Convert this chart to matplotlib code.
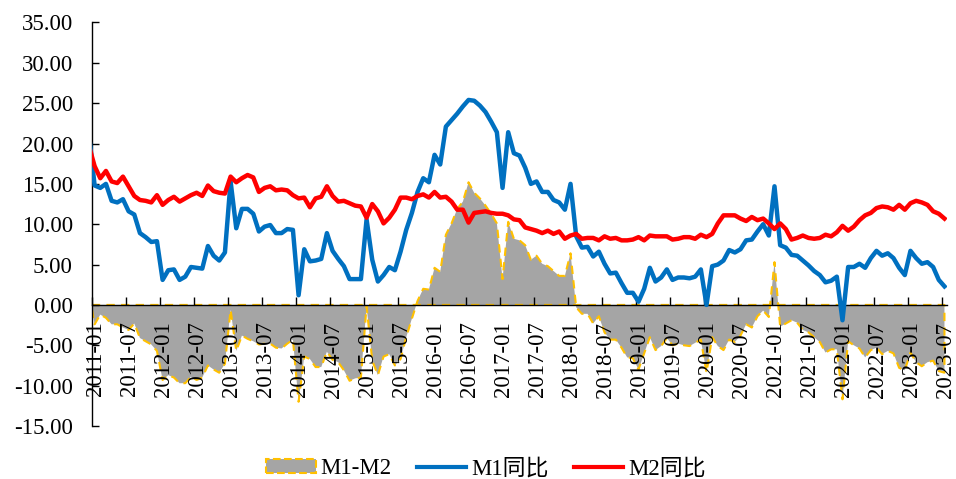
import numpy as np
import pandas as pd
import matplotlib.pyplot as plt
import matplotlib.transforms as mtransforms
from matplotlib.patches import Patch
from matplotlib.lines import Line2D

plt.switch_backend('Agg')
plt.rcParams['font.family'] = ['Liberation Serif', 'Noto Sans CJK SC']

# monthly series 2010-12 .. 2023-07 (first point lies just left of the axis and is clipped)
months = pd.period_range('2010-12', '2023-07', freq='M')

m1_yoy = [
    21.2,
    14.8, 14.5, 15.0, 12.9, 12.7, 13.1, 11.6, 11.2, 8.9, 8.4, 7.8, 7.9,    # 2011
    3.1, 4.3, 4.4, 3.1, 3.5, 4.7, 4.6, 4.5, 7.3, 6.1, 5.5, 6.5,            # 2012
    15.3, 9.5, 11.9, 11.9, 11.3, 9.1, 9.7, 9.9, 8.9, 8.9, 9.4, 9.3,        # 2013
    1.2, 6.9, 5.4, 5.5, 5.7, 8.9, 6.7, 5.7, 4.8, 3.2, 3.2, 3.2,            # 2014
    10.6, 5.6, 2.9, 3.7, 4.7, 4.3, 6.6, 9.3, 11.4, 14.0, 15.7, 15.2,       # 2015
    18.6, 17.4, 22.1, 22.9, 23.7, 24.6, 25.4, 25.3, 24.7, 23.9, 22.7, 21.4,  # 2016
    14.5, 21.4, 18.8, 18.5, 17.0, 15.0, 15.3, 14.0, 14.0, 13.0, 12.7, 11.8,  # 2017
    15.0, 8.5, 7.1, 7.2, 6.0, 6.6, 5.1, 3.9, 4.0, 2.7, 1.5, 1.5,           # 2018
    0.4, 2.0, 4.6, 2.9, 3.4, 4.4, 3.1, 3.4, 3.4, 3.3, 3.5, 4.4,            # 2019
    0.0, 4.8, 5.0, 5.5, 6.8, 6.5, 6.9, 8.0, 8.1, 9.1, 10.0, 8.6,           # 2020
    14.7, 7.4, 7.1, 6.2, 6.1, 5.5, 4.9, 4.2, 3.7, 2.8, 3.0, 3.5,           # 2021
    -1.9, 4.7, 4.7, 5.1, 4.6, 5.8, 6.7, 6.1, 6.4, 5.8, 4.6, 3.7,           # 2022
    6.7, 5.8, 5.1, 5.3, 4.7, 3.1, 2.3,                                     # 2023
]

m2_yoy = [
    19.7,
    17.2, 15.7, 16.6, 15.3, 15.1, 15.9, 14.7, 13.5, 13.0, 12.9, 12.7, 13.6,  # 2011
    12.4, 13.0, 13.4, 12.8, 13.2, 13.6, 13.9, 13.5, 14.8, 14.1, 13.9, 13.8,  # 2012
    15.9, 15.2, 15.7, 16.1, 15.8, 14.0, 14.5, 14.7, 14.2, 14.3, 14.2, 13.6,  # 2013
    13.2, 13.3, 12.1, 13.2, 13.4, 14.7, 13.5, 12.8, 12.9, 12.6, 12.3, 12.2,  # 2014
    10.8, 12.5, 11.6, 10.1, 10.8, 11.8, 13.3, 13.3, 13.1, 13.5, 13.7, 13.3,  # 2015
    14.0, 13.3, 13.4, 12.8, 11.8, 11.8, 10.2, 11.4, 11.5, 11.6, 11.4, 11.3,  # 2016
    11.3, 11.1, 10.6, 10.5, 9.6, 9.4, 9.2, 8.9, 9.2, 8.8, 9.1, 8.2,          # 2017
    8.6, 8.8, 8.2, 8.3, 8.3, 8.0, 8.5, 8.2, 8.3, 8.0, 8.0, 8.1,              # 2018
    8.4, 8.0, 8.6, 8.5, 8.5, 8.5, 8.1, 8.2, 8.4, 8.4, 8.2, 8.7,              # 2019
    8.4, 8.8, 10.1, 11.1, 11.1, 11.1, 10.7, 10.4, 10.9, 10.5, 10.7, 10.1,    # 2020
    9.4, 10.1, 9.4, 8.1, 8.3, 8.6, 8.3, 8.2, 8.3, 8.7, 8.5, 9.0,             # 2021
    9.8, 9.2, 9.7, 10.5, 11.1, 11.4, 12.0, 12.2, 12.1, 11.8, 12.4, 11.8,     # 2022
    12.6, 12.9, 12.7, 12.4, 11.6, 11.3, 10.7,                                # 2023
]

m1 = np.array(m1_yoy)
m2 = np.array(m2_yoy)
spread = m1 - m2

# month index, 2011-01 = 0; points sit a little to the right of their tick
x = np.arange(len(months)) - 1 + 0.4
tick_pos = np.arange(0, 151, 6)
tick_labels = [str(p) for p in months[1::6]]

fig = plt.figure(figsize=(9.56, 4.79), dpi=100)
ax = fig.add_axes([0.0966, 0.1107, 0.8937, 0.8424])

ax.fill_between(x, spread, 0, facecolor='#A5A5A5', edgecolor='#FFC000',
                linewidth=1.5, linestyle=(0, (4, 3)), zorder=1)
ax.plot(x, m1, color='#0070C0', linewidth=3.2, zorder=3, solid_joinstyle='round')
ax.plot(x, m2, color='#FF0000', linewidth=3.2, zorder=3, solid_joinstyle='round')

ax.set_xlim(0, 150.8)
ax.set_ylim(-15, 35)
ax.set_yticks(np.arange(-15, 36, 5))
ax.yaxis.set_major_formatter(lambda v, p: f'{v:.2f}')
ax.set_xticks(tick_pos, tick_labels)

for s in ('top', 'right'):
    ax.spines[s].set_visible(False)
ax.spines['bottom'].set_position(('data', 0))
ax.spines['bottom'].set_zorder(2)
for s in ('left', 'bottom'):
    ax.spines[s].set_color('black')
    ax.spines[s].set_linewidth(1)

ax.tick_params(axis='x', direction='in', length=6, width=1, labelsize=16.5,
               pad=12, labelrotation=90)
ax.tick_params(axis='y', direction='in', length=5, width=1, labelsize=16.5, pad=14)

# labels sit slightly right of their tick marks
shift = mtransforms.ScaledTranslation(3 / 100, 0, fig.dpi_scale_trans)
for lab in ax.get_xticklabels():
    lab.set_transform(lab.get_transform() + shift)

handles = [
    Patch(facecolor='#A5A5A5', edgecolor='#FFC000', linestyle='--', linewidth=1.5),
    Line2D([], [], color='#0070C0', linewidth=3),
    Line2D([], [], color='#FF0000', linewidth=3),
]
fig.legend(handles, ['M1-M2', 'M1同比', 'M2同比'], loc='center',
           bbox_to_anchor=(0.508, 0.021), ncol=3, frameon=False, fontsize=16.5,
           handlelength=2.17, handleheight=0.55, handletextpad=0.2,
           columnspacing=1.1, borderpad=0)

fig.savefig('out.png', dpi=100)
